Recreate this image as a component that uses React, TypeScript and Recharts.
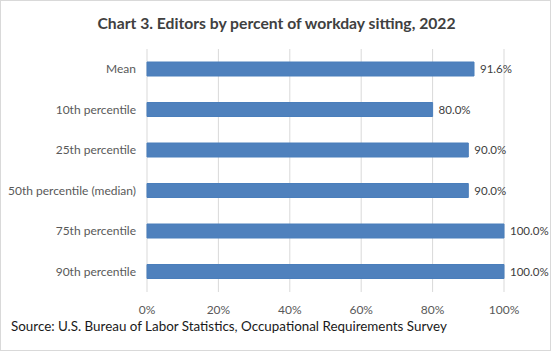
import React from 'react';
import { BarChart, Bar, XAxis, YAxis, CartesianGrid, LabelList } from 'recharts';

const categories = [
  'Mean',
  '10th percentile',
  '25th percentile',
  '50th percentile (median)',
  '75th percentile',
  '90th percentile',
];
const values = [91.6, 80.0, 90.0, 90.0, 100.0, 100.0];
const xTicks = [0, 20, 40, 60, 80, 100];

const data = categories.map((name, i) => ({ name, value: values[i] }));

const FONT = 'Lato, "Open Sans", sans-serif';

const CategoryTick = (props: any) => {
  const { x, y, payload } = props;
  return (
    <text
      x={x}
      y={y}
      dy="0.35em"
      textAnchor="end"
      fill="#595959"
      fontSize={12}
      fontFamily={FONT}
    >
      {payload.value}
    </text>
  );
};

export default function App() {
  return (
    <div
      style={{
        position: 'absolute',
        left: 0,
        top: 0,
        width: 551,
        height: 351,
        boxSizing: 'border-box',
        border: '1px solid #d9d9d9',
        background: '#fff',
        fontFamily: FONT,
      }}
    >
      <div
        style={{
          position: 'absolute',
          left: 0,
          top: 12,
          width: 551,
          textAlign: 'center',
          fontWeight: 'bold',
          fontSize: 15.7,
          color: '#404040',
          lineHeight: '20px',
        }}
      >
        Chart 3. Editors by percent of workday sitting, 2022
      </div>
      <div style={{ position: 'absolute', left: -1, top: -1 }}>
        <BarChart
          layout="vertical"
          width={551}
          height={351}
          data={data}
          margin={{ top: 49, bottom: 29, left: 10, right: 47 }}
        >
          <CartesianGrid horizontal={false} stroke="#d9d9d9" />
          <XAxis
            type="number"
            domain={[0, 100]}
            ticks={xTicks}
            tickFormatter={(v: number) => `${v}%`}
            axisLine={false}
            tickLine={false}
            tickMargin={7}
            height={30}
            tick={{ fill: '#595959', fontSize: 12, fontFamily: FONT }}
          />
          <YAxis
            type="category"
            dataKey="name"
            width={137}
            axisLine={false}
            tickLine={false}
            tickMargin={5}
            tick={<CategoryTick />}
          />
          <Bar
            dataKey="value"
            fill="#4f81bd"
            stroke="#4a7ebb"
            barSize={14}
            isAnimationActive={false}
          >
            <LabelList
              dataKey="value"
              position="right"
              offset={6}
              formatter={(v: number) => `${v.toFixed(1)}%`}
              style={{ fill: '#404040', fontSize: 11.5, fontFamily: FONT }}
            />
          </Bar>
        </BarChart>
      </div>
      <div
        style={{
          position: 'absolute',
          left: 10,
          top: 316,
          fontSize: 13.4,
          color: '#1a1a1a',
          lineHeight: '18px',
          whiteSpace: 'nowrap',
        }}
      >
        Source: U.S. Bureau of Labor Statistics, Occupational Requirements Survey
      </div>
    </div>
  );
}
